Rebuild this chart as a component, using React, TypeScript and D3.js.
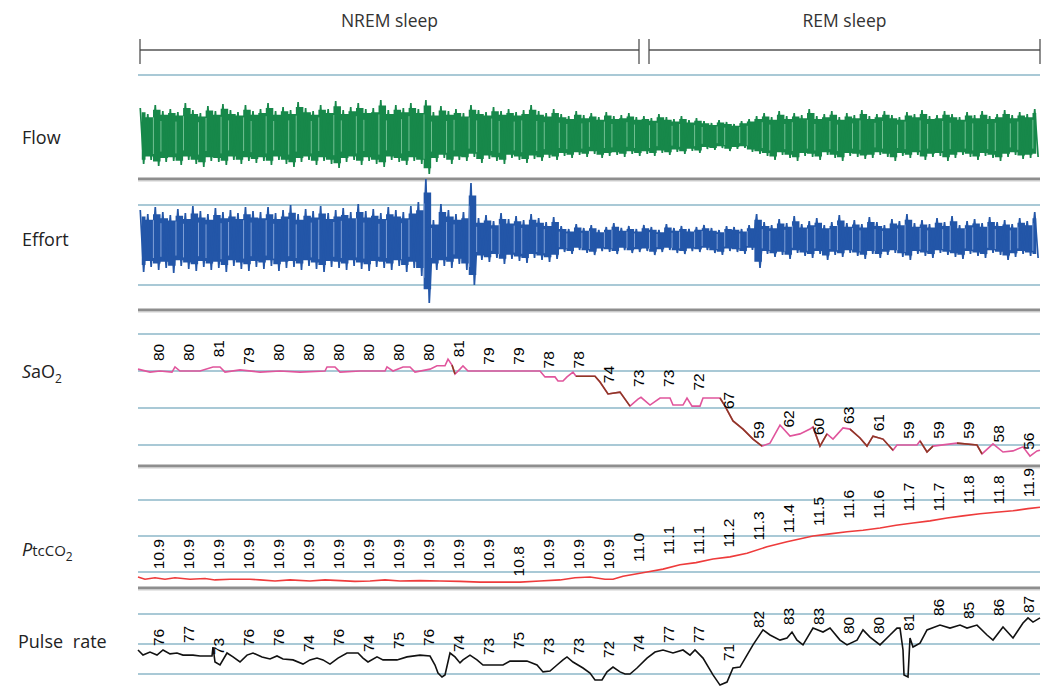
import React from "react";
import * as d3 from "d3";

// ---------- data ----------
const stageNames = ["NREM sleep", "REM sleep"];
const stageStart = [4, 1022];
const stageEnd = [1002, 1804];

// epoch label times (s)
const epochTimes = [40, 100, 160, 220, 280, 340, 400, 460, 520, 580, 640, 700, 760, 820, 880,
  940, 1000, 1060, 1120, 1180, 1240, 1300, 1360, 1420, 1480, 1540, 1600, 1660, 1720, 1780];

const sao2Labels = [80, 80, 81, 79, 80, 80, 80, 80, 80, 80, 81, 79, 79, 78, 78,
  74, 73, 73, 72, 67, 59, 62, 60, 63, 61, 59, 59, 59, 58, 56];
const ptcLabels = ["10.9", "10.9", "10.9", "10.9", "10.9", "10.9", "10.9", "10.9", "10.9", "10.9", "10.9", "10.9", "10.8", "10.9", "10.9",
  "10.9", "11.0", "11.1", "11.1", "11.2", "11.3", "11.4", "11.5", "11.6", "11.6", "11.7", "11.7", "11.8", "11.8", "11.9"];
const pulseLabels = [76, 77, 73, 76, 76, 74, 76, 74, 75, 76, 74, 73, 75, 73, 73,
  72, 74, 77, 77, 71, 82, 83, 83, 80, 80, 81, 86, 85, 86, 87];

// Flow: breath peaks / troughs (arbitrary units)
const flowPeaks = [
  28, 22, 31, 25, 27, 24, 33, 26, 23, 30, 25, 32, 26, 24, 31, 25,
  27, 33, 25, 29, 26, 34, 28, 25, 31, 27, 35, 26, 29, 33, 27, 28, 36, 26, 31, 28, 33, 27, 36,
  24, 30, 25, 27, 23, 31, 26, 24, 29, 25, 27, 24, 26, 31, 25, 23, 27,
  22, 20, 25, 21, 23, 19, 24, 20, 21, 23, 19,
  20, 18, 22, 19, 17, 20, 16, 18,
  15, 13, 16, 14, 12, 15, 17, 20,
  23, 19, 25, 20, 23, 21, 27, 20, 22, 25, 19, 23, 21, 26, 20, 22, 25, 21, 19, 24, 22, 26, 20, 21, 25, 22, 19, 24, 21, 25, 20, 22, 26, 21, 24, 22, 27];
const flowTroughs = [
  -28, -24, -30, -26, -25, -29, -24, -28, -31, -25, -26, -29, -24, -28, -25, -27,
  -25, -29, -24, -28, -31, -26, -24, -29, -25, -28, -32, -26, -24, -29, -25, -28, -31, -24, -26, -29, -25, -28, -38,
  -26, -22, -28, -24, -25, -21, -27, -23, -25, -28, -22, -24, -27, -23, -25, -22, -24,
  -20, -22, -19, -21, -18, -22, -20, -19, -21, -18, -20,
  -18, -20, -17, -19, -16, -18, -15, -17,
  -13, -14, -12, -15, -13, -12, -16, -18,
  -20, -24, -19, -22, -25, -20, -21, -24, -19, -22, -25, -20, -21, -23, -22, -19, -21, -25, -20, -22, -19, -24, -21, -20, -25, -22, -19, -21, -24, -20, -22, -25, -21, -19, -23, -22, -21];

// Effort: breath peaks / troughs (arbitrary units)
const effortPeaks = [
  30, 26, 33, 28, 25, 31, 27, 34, 29, 26, 32, 28, 30, 27, 33, 29,
  28, 33, 27, 30, 35, 26, 31, 29, 34, 27, 30, 32, 28, 36, 29, 31, 27, 33, 30, 28, 34, 38,
  61,
  20, 36, 30, 26, 28, 57,
  22, 25, 19, 27, 21, 24, 20, 26, 22, 18, 23,
  14, 11, 16, 12, 15, 10, 13, 17, 12, 14, 11, 15, 13, 10, 16, 12, 14, 11, 13, 15, 12, 10, 14, 13, 11, 15, 26,
  18, 15, 21, 17, 24, 16, 19, 22, 15, 18, 25, 17, 20, 16, 23, 18, 15, 21, 19, 26, 17, 20, 16, 22, 18, 24, 15, 19, 21, 17, 23, 18, 20, 16, 22, 19, 28];
const effortTroughs = [
  -32, -27, -30, -28, -33, -26, -29, -31, -27, -30, -28, -32, -26, -29, -31, -27,
  -29, -26, -31, -28, -27, -30, -26, -29, -32, -27, -28, -30, -26, -29, -31, -27, -28, -30, -26, -32, -28, -36,
  -63,
  -30, -26, -28, -24, -30, -45,
  -20, -22, -18, -24, -19, -21, -23, -18, -20, -22, -19,
  -12, -14, -10, -13, -15, -11, -12, -14, -10, -13, -12, -11, -15, -12, -10, -13, -14, -11, -12, -10, -13, -15, -11, -12, -14, -10, -28,
  -14, -17, -15, -19, -13, -16, -18, -14, -20, -15, -17, -13, -16, -19, -14, -18, -15, -13, -17, -20, -14, -16, -18, -13, -15, -17, -19, -14, -16, -18, -13, -15, -20, -17, -14, -16, -18];

// SaO2 trace (%)
const sao2Time = [0, 24, 44, 68, 74, 84, 124, 150, 164, 174, 204, 244, 284, 324, 374, 378, 394, 404, 444, 494, 498, 510, 530, 544, 554, 584, 598, 614, 620, 628, 634, 644, 650, 660, 804, 814, 834, 840, 850, 858, 870, 876, 914, 924, 940, 964, 984, 1000, 1006, 1024, 1044, 1064, 1070, 1090, 1098, 1108, 1124, 1130, 1164, 1174, 1190, 1210, 1230, 1248, 1264, 1284, 1304, 1324, 1344, 1350, 1364, 1378, 1390, 1410, 1424, 1444, 1458, 1470, 1490, 1510, 1518, 1558, 1564, 1578, 1590, 1638, 1678, 1688, 1710, 1730, 1750, 1770, 1784, 1798, 1804];
const sao2Values = [80.5, 79.7, 80, 79.7, 81.1, 80, 80, 81.1, 81.1, 79.7, 80.3, 79.7, 80, 79.7, 80, 81.1, 81.1, 79.7, 80, 80, 81.1, 80, 81.1, 81.1, 79.7, 80.5, 81.4, 81.4, 83.2, 81.6, 79.2, 80.5, 81.4, 80, 80, 78.4, 78.4, 77.3, 77.3, 78.4, 79.7, 78.6, 78.6, 77, 73.8, 74.3, 70.5, 72.4, 72.9, 70.8, 72.7, 72.7, 70.8, 70.8, 72.7, 70.5, 70.5, 72.7, 72.7, 70.5, 66.5, 64.3, 61.6, 59.7, 60.5, 65.4, 62.4, 63, 64.3, 64.9, 59.7, 63, 61.6, 64.6, 64.3, 61.9, 59.7, 62.4, 61.6, 58.6, 60, 60, 61.1, 58.1, 59.7, 60.5, 60, 57.6, 60.3, 58.1, 58.4, 59.5, 57, 58.4, 58.6];
// time ranges where the SaO2 trace is drawn in the darker (desaturation) colour
const sao2DropStart = [628, 876, 1164, 1350, 1418, 1564, 1638];
const sao2DropEnd = [640, 984, 1254, 1380, 1514, 1598, 1688];

// PtcCO2 trace (kPa)
const ptcTime = [0, 14, 34, 54, 74, 104, 134, 154, 184, 224, 244, 274, 304, 344, 374, 404, 434, 464, 494, 524, 564, 604, 644, 684, 724, 764, 804, 844, 874, 904, 934, 950, 970, 1018, 1050, 1084, 1116, 1150, 1184, 1218, 1258, 1298, 1350, 1384, 1418, 1450, 1484, 1516, 1550, 1584, 1618, 1650, 1684, 1716, 1750, 1780, 1804];
const ptcValues = [10.93, 10.9, 10.92, 10.9, 10.92, 10.9, 10.91, 10.89, 10.9, 10.9, 10.89, 10.875, 10.89, 10.875, 10.89, 10.88, 10.87, 10.875, 10.89, 10.875, 10.88, 10.875, 10.87, 10.86, 10.86, 10.86, 10.875, 10.89, 10.92, 10.93, 10.9, 10.9, 10.94, 11.0, 11.04, 11.1, 11.13, 11.18, 11.21, 11.26, 11.35, 11.42, 11.5, 11.53, 11.56, 11.58, 11.61, 11.65, 11.68, 11.71, 11.75, 11.78, 11.81, 11.83, 11.85, 11.88, 11.9];

// Pulse rate trace (bpm)
const pulseTime = [0, 10, 24, 38, 50, 64, 78, 90, 110, 124, 148, 150, 154, 164, 178, 190, 204, 218, 230, 248, 264, 278, 290, 310, 330, 344, 358, 370, 384, 400, 418, 440, 450, 460, 478, 490, 518, 538, 564, 584, 594, 600, 608, 614, 624, 634, 644, 650, 664, 678, 690, 730, 744, 778, 798, 810, 824, 838, 850, 858, 870, 890, 904, 914, 928, 938, 950, 964, 974, 984, 998, 1018, 1034, 1050, 1070, 1090, 1104, 1114, 1130, 1150, 1164, 1178, 1190, 1204, 1218, 1230, 1250, 1264, 1284, 1298, 1308, 1318, 1330, 1350, 1370, 1384, 1404, 1418, 1438, 1450, 1464, 1484, 1504, 1518, 1524, 1530, 1532, 1540, 1544, 1550, 1564, 1578, 1604, 1624, 1644, 1658, 1678, 1698, 1710, 1730, 1750, 1770, 1780, 1790, 1804];
const pulseValues = [78, 76.3, 77.3, 76.3, 78, 76.7, 77, 76.3, 76.3, 76, 76, 79, 74, 73, 77, 75.7, 74, 76.3, 77, 75.7, 75, 76, 75, 74.7, 73.3, 74.7, 75.3, 74.7, 73.3, 75.3, 77, 77, 75.3, 74, 75.7, 74.7, 74.7, 75.7, 76.3, 76, 73, 70.3, 69, 69.7, 77, 75.7, 73.7, 74.7, 76.3, 74.7, 73, 73, 74.3, 74.3, 73, 70.7, 71, 73, 74.7, 75.7, 74, 72, 70.3, 68, 68, 70.7, 72.3, 70.7, 70, 70, 72, 75.3, 77.3, 78, 77, 78, 76.3, 78, 75.3, 69.7, 66.3, 67.3, 72, 72.3, 76.3, 79.7, 84.7, 83, 81.3, 82, 84, 81.3, 79.7, 85.3, 84, 85.3, 81.3, 79.7, 81.3, 84.7, 82.3, 79.7, 83, 85.3, 85.3, 78, 69.7, 69, 82, 79, 80.3, 84.7, 86.3, 85.3, 86.3, 85.3, 86.3, 83, 81.3, 85.7, 82, 87, 88.7, 87.3, 88.7];

// ---------- layout ----------
const W = 1049;
const H = 692;
const X0 = 138;
const X1 = 1040;
const LABEL_FONT = "'Liberation Sans', Arial, sans-serif";
const ROW_FONT = "'Open Sans', 'DejaVu Sans', sans-serif";
const GRID = "#a9c9d6";
const SEP = "#8e8e8e";

type Wave = { peaks: number[]; troughs: number[]; color: string; light: string; y: d3.ScaleLinear<number, number>; core: number };

function WaveTrace({ peaks, troughs, color, light, y, core }: Wave) {
  const n = peaks.length;
  const band = d3.scaleBand<number>().domain(d3.range(n)).range([X0, X1]).paddingInner(0);
  const bw = band.bandwidth();
  // core: solid band holding most of each breath
  const coreArea = d3
    .area<number>()
    .x((i) => (band(i) as number) + bw / 2)
    .y0((i) => y(troughs[i] * core))
    .y1((i) => y(peaks[i] * core))
    .curve(d3.curveStep);
  // zigzag through every breath's peak and trough
  const pts: [number, number][] = [];
  for (let i = 0; i < n; i++) {
    const bx = band(i) as number;
    pts.push([bx + bw * 0.3, y(peaks[i])]);
    pts.push([bx + bw * 0.75, y(troughs[i])]);
  }
  const zig = d3.line<[number, number]>().x((d) => d[0]).y((d) => d[1]);
  return (
    <g>
      <path d={coreArea(d3.range(n)) || ""} fill={color} />
      <path d={zig(pts) || ""} fill="none" stroke={color} strokeWidth={1.7} strokeLinejoin="miter" strokeMiterlimit={2} />
      {d3.range(1, n, 1).map((i) => (
        <line
          key={i}
          x1={(band(i) as number) + bw * 0.05}
          x2={(band(i) as number) + bw * 0.05}
          y1={y(peaks[i] * 0.6)}
          y2={y(troughs[i] * 0.6)}
          stroke={light}
          strokeWidth={0.9}
          opacity={i % 3 === 1 ? 0 : 0.85}
        />
      ))}
    </g>
  );
}

export default function App() {
  const x = d3.scaleLinear().domain([0, 1804]).range([X0, X1]);

  const flowY = d3.scaleLinear().domain([-40, 40]).range([176, 96]);
  const effortY = d3.scaleLinear().domain([-40, 40]).range([280, 200]);
  const sao2Y = d3.scaleLinear().domain([60, 90]).range([445, 334]);
  const ptcY = d3.scaleLinear().domain([11, 12]).range([572, 500]);
  const pulseY = d3.scaleLinear().domain([70, 90]).range([674, 614]);

  const gridLines: number[] = [flowY(61), effortY(35), effortY(-45), sao2Y(90), sao2Y(80), sao2Y(70), sao2Y(60), ptcY(12), ptcY(11.5), ptcY(11), pulseY(90), pulseY(80), pulseY(70)];
  const separators = [179, 310, 466, 588];

  const sao2Pts: [number, number][] = sao2Time.map((t, i) => [t, sao2Values[i]]);
  const ptcPts: [number, number][] = ptcTime.map((t, i) => [t, ptcValues[i]]);
  const pulsePts: [number, number][] = pulseTime.map((t, i) => [t, pulseValues[i]]);

  const lineFor = (ys: d3.ScaleLinear<number, number>) =>
    d3.line<[number, number]>().x((d) => x(d[0])).y((d) => ys(d[1])).curve(d3.curveLinear);

  const sao2Line = lineFor(sao2Y);
  const ptcLine = lineFor(ptcY);
  const pulseLine = lineFor(pulseY);

  const epochLabel = (key: string, t: number, text: string, yb: number) => (
    <text
      key={key}
      transform={`translate(${x(t)},${yb}) rotate(-90)`}
      dy="0.36em"
      fontFamily={LABEL_FONT}
      fontSize={15.5}
      fill="#000"
      textAnchor="start"
    >
      {text}
    </text>
  );

  return (
    <svg width={W} height={H} style={{ position: "absolute", left: 0, top: 0, background: "#fff" }}>
      {/* sleep stage brackets */}
      {stageNames.map((name, i) => {
        const a = x(stageStart[i]);
        const b = x(stageEnd[i]);
        return (
          <g key={name}>
            <text x={(a + b) / 2} y={27} textAnchor="middle" fontFamily={ROW_FONT} fontSize={17.5} fill="#333">
              {name}
            </text>
            <line x1={a} x2={b} y1={50} y2={50} stroke="#555" strokeWidth={1.6} />
            <line x1={a} x2={a} y1={39} y2={64} stroke="#444" strokeWidth={1.2} />
            <line x1={b} x2={b} y1={39} y2={64} stroke="#444" strokeWidth={1.2} />
          </g>
        );
      })}

      {/* grid */}
      {gridLines.map((gy, i) => (
        <line key={"g" + i} x1={X0} x2={X1} y1={gy} y2={gy} stroke={GRID} strokeWidth={2} />
      ))}
      {separators.map((sy, i) => (
        <g key={"s" + i}>
          <line x1={X0} x2={X1} y1={sy} y2={sy} stroke={SEP} strokeWidth={3} />
          <line x1={X0} x2={X1} y1={sy + 2} y2={sy + 2} stroke="#cfcfcf" strokeWidth={1} />
        </g>
      ))}

      {/* Flow */}
      <WaveTrace peaks={flowPeaks} troughs={flowTroughs} color="#17884a" light="#8fd3aa" y={flowY} core={0.85} />

      {/* Effort */}
      <WaveTrace peaks={effortPeaks} troughs={effortTroughs} color="#2356a8" light="#9db8e6" y={effortY} core={0.78} />

      {/* SaO2 */}
      <path d={sao2Line(sao2Pts) || ""} fill="none" stroke="#e0559c" strokeWidth={1.6} />
      {sao2DropStart.map((s, i) => (
        <path
          key={"d" + i}
          d={sao2Line(sao2Pts.filter((p) => p[0] >= s && p[0] <= sao2DropEnd[i])) || ""}
          fill="none"
          stroke="#8e3a24"
          strokeWidth={1.6}
        />
      ))}
      {sao2Labels.map((v, i) => epochLabel("sl" + i, epochTimes[i], String(v), sao2Y(v) - 10))}

      {/* PtcCO2 */}
      <path d={ptcLine(ptcPts) || ""} fill="none" stroke="#ee3b3b" strokeWidth={1.6} />
      {ptcLabels.map((v, i) => epochLabel("pl" + i, epochTimes[i], v, ptcY(+v) - 10))}

      {/* Pulse */}
      <path d={pulseLine(pulsePts) || ""} fill="none" stroke="#111" strokeWidth={1.6} />
      {pulseLabels.map((v, i) => epochLabel("hl" + i, epochTimes[i], String(v), pulseY(v) - 10))}

      {/* row labels */}
      <g fontFamily={ROW_FONT} fontSize={18} fill="#222">
        <text x={22} y={144}>Flow</text>
        <text x={22} y={246}>Effort</text>
        <text x={22} y={378}>
          <tspan fontStyle="italic">S</tspan>
          <tspan>aO</tspan>
          <tspan fontSize={12} dy={5}>2</tspan>
        </text>
        <text x={22} y={556}>
          <tspan fontStyle="italic">P</tspan>
          <tspan fontSize={15}>tcCO</tspan>
          <tspan fontSize={12} dy={5}>2</tspan>
        </text>
        <text x={18} y={648} wordSpacing={5}>Pulse rate</text>
      </g>
    </svg>
  );
}
